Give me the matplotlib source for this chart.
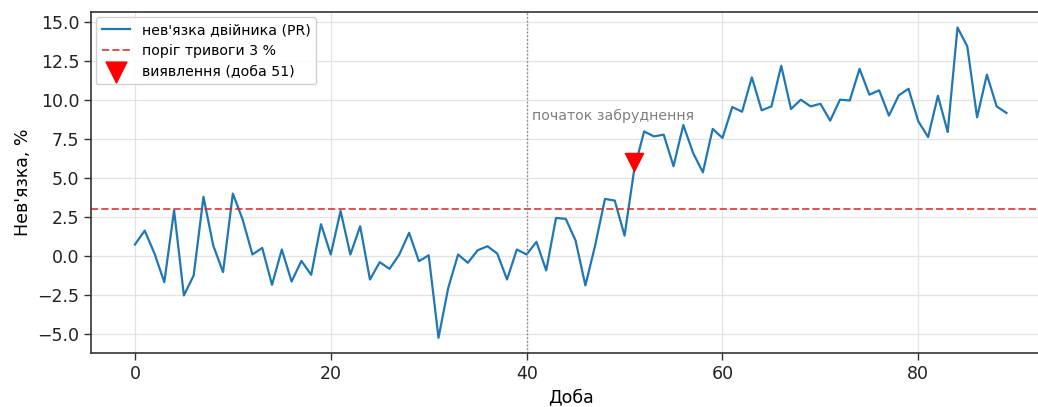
import matplotlib
matplotlib.use("Agg")
import matplotlib.pyplot as plt
import numpy as np

days = list(range(90))
pr_residual = [
    0.75, 1.64, 0.17, -1.66, 2.94, -2.51, -1.23, 3.80, 0.68, -1.02,
    4.01, 2.35, 0.11, 0.53, -1.83, 0.43, -1.62, -0.30, -1.19, 2.05,
    0.11, 2.90, 0.11, 1.92, -1.49, -0.38, -0.81, 0.11, 1.50, -0.32,
    0.06, -5.22, -2.02, 0.11, -0.42, 0.38, 0.64, 0.17, -1.49, 0.43,
    0.11, 0.92, -0.91, 2.45, 2.39, 1.00, -1.87, 0.70, 3.67, 3.56,
    1.32, 5.60, 7.99, 7.67, 7.78, 5.76, 8.40, 6.61, 5.37, 8.15,
    7.57, 9.55, 9.25, 11.45, 9.34, 9.59, 12.19, 9.42, 10.02, 9.59,
    9.76, 8.68, 10.02, 9.97, 12.00, 10.34, 10.62, 9.00, 10.30, 10.72,
    8.63, 7.63, 10.27, 7.95, 14.64, 13.43, 8.89, 11.62, 9.59, 9.17,
]
threshold = 3.0
contamination_start = 40
detection_day = 51
detection_marker_y = 6.0

label_line = "нев'язка двійника (PR)"
label_thr = "поріг тривоги 3 %"
label_det = "виявлення (доба 51)"
annot_text = "початок забруднення"
xlabel = "Доба"
ylabel = "Нев'язка, %"

plt.rcParams['font.family'] = ['DejaVu Sans']
fig = plt.figure(figsize=(10.38, 4.07), dpi=100)
ax = fig.add_axes([0.088, 0.132, 0.9236, 0.8385])

spine_col = '#333333'
for s in ax.spines.values():
    s.set_color(spine_col)
    s.set_linewidth(1.2)
ax.tick_params(colors=spine_col, labelcolor='#222222', labelsize=12.5, width=1.0, length=5)

ax.grid(True, color='#dddddd', linewidth=0.9, alpha=0.8)
ax.set_axisbelow(True)

ax.plot(days, pr_residual, color='#1f77b4', lw=1.6, label=label_line)
ax.axhline(threshold, color='#d62728', ls='--', lw=1.4, alpha=0.8, label=label_thr)
ax.axvline(contamination_start, color='gray', ls=':', lw=1.0)
ax.scatter([detection_day], [detection_marker_y], marker='v', s=170, color='red', zorder=5, label=label_det)

ax.text(contamination_start + 0.5, 9.0, annot_text, color='gray', fontsize=10.2, va='center', ha='left')

ax.set_xlabel(xlabel, fontsize=12.5)
ax.set_ylabel(ylabel, fontsize=12.5)
ax.legend(loc='upper left', fontsize=10.2, framealpha=0.9, borderaxespad=0.35, markerscale=1.15)

fig.savefig('out.png', dpi=100)
